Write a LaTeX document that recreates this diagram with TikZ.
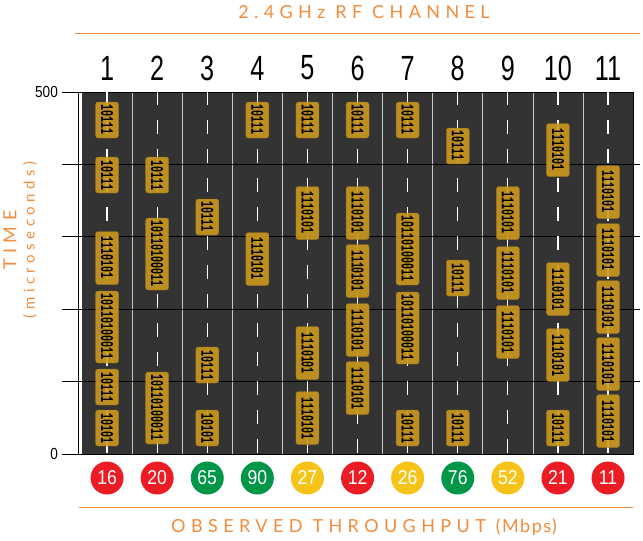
\documentclass[tikz,border=0pt]{standalone}
\usepackage{fontspec}
\setmainfont{Liberation Sans}
\newfontfamily\labelfont[LetterSpace=30]{Lato}
\newfontfamily\unitfont[LetterSpace=8]{Lato}
\newfontfamily\bitsfont{Liberation Mono}
\usepackage{xcolor}
\usepackage{tikz}
\usetikzlibrary{positioning}

\definecolor{rforange}{RGB}{242,140,60}
\definecolor{panelgray}{RGB}{51,51,51}
\definecolor{lanegray}{RGB}{200,200,200}
\definecolor{pktgold}{RGB}{204,154,32}
\definecolor{pktedge}{RGB}{150,112,28}
\definecolor{tpred}{RGB}{236,28,36}
\definecolor{tpgreen}{RGB}{0,150,72}
\definecolor{tpyellow}{RGB}{246,196,24}

\tikzset{
  chnum/.style={font=\fontsize{35}{35}\selectfont, xscale=0.72, inner sep=0pt},
  lane/.style={white, line width=1.2pt, dash pattern=on 14pt off 15pt},
  pkt/.style={rotate=-90, draw=pktedge, fill=pktgold, fill opacity=0.9, text opacity=1,
    rounded corners=2.5pt, minimum height=23pt, inner sep=0pt,
    font=\bitsfont\bfseries\fontsize{10}{10}\selectfont},
  tpdot/.style={circle, minimum size=33pt, inner sep=0pt, text=white,
    font=\fontsize{20}{20}\selectfont},
  grid line/.style={black, line width=0.8pt},
  tick/.style={anchor=east, inner sep=0pt, xscale=0.85, font=\fontsize{16}{16}\selectfont}
}

\begin{document}
\begin{tikzpicture}[x=1pt,y=-1pt]
\useasboundingbox (0,0) rectangle (643,541);
% Channel title
\node[rforange, font=\labelfont\fontsize{18}{18}\selectfont] (title) at (364,12) {2.4GHz RF CHANNEL};
\draw[rforange, line width=1pt] (75,33) -- (640,33);
% Time axis labels
\node[rforange, rotate=90, font=\labelfont\fontsize{18}{18}\selectfont] (timelbl) at (10,240) {TIME};
\node[rforange, rotate=90, font=\labelfont\fontsize{15}{15}\selectfont] (unitlbl) at (30,240) {(microseconds)};
% Plot panel
\fill[panelgray] (82,92) rectangle (633.5,454);
\foreach \k in {1,...,10} {
  \draw[lanegray, line width=0.8pt] ({82+\k*50.1},92) -- ({82+\k*50.1},454);
}
% Time grid
\foreach \k in {1,...,4} {
  \draw[grid line] (62,{92+\k*72.4}) -- (640,{92+\k*72.4});
}
\draw[grid line] (62,92) -- (633.5,92) -- (633.5,454) -- (62,454);
\draw[grid line] (78,92) -- (78,454);
\node[tick] (tmax) at (58,92) {500};
\node[tick] (tmin) at (58,454) {0};
% Channels: number, lane, observed throughput
\foreach \ch/\tp/\tpc in {1/16/tpred, 2/20/tpred, 3/65/tpgreen, 4/90/tpgreen,
    5/27/tpyellow, 6/12/tpred, 7/26/tpyellow, 8/76/tpgreen, 9/52/tpyellow,
    10/21/tpred, 11/11/tpred} {
  \pgfmathsetmacro{\cx}{82+(\ch-0.5)*50.1}
  \node[chnum] (ch\ch) at (\cx,68) {\ch};
  \draw[lane] (\cx,91) -- (\cx,454);
  \node[tpdot, fill=\tpc] (tp\ch) at (\cx,478) {\scalebox{0.88}[1]{\tp}};
}
% Packets on air (column / centre / bits / length)
\foreach \ch/\y/\bits/\len in {
    1/120/10111/36, 1/175/10111/36, 1/258/1110101/53, 1/327/10110100011/72, 1/387/10111/36, 1/428/10101/36,
    2/175/10111/36, 2/254/10110100011/72, 2/408/10110100011/72,
    3/217/10111/36, 3/365/10111/36, 3/428/10101/36,
    4/120/10111/36, 4/259/1110101/53,
    5/120/10111/36, 5/213/1110101/53, 5/353/1110101/53, 5/418/1110101/53,
    6/120/10111/36, 6/213/1110101/53, 6/271/1110101/53, 6/330/1110101/53, 6/388/1110101/53,
    7/120/10111/36, 7/249/10110100011/72, 7/328/10110100011/72, 7/428/10111/36,
    8/146/10111/36, 8/278/10111/36, 8/428/10111/36,
    9/213/1110101/53, 9/273/1110101/53, 9/332/1110101/53,
    10/150/1110101/53, 10/289/1110101/53, 10/355/1110101/53, 10/428/10111/36,
    11/192/1110101/53, 11/250/1110101/53, 11/307/1110101/53, 11/364/1110101/53, 11/421/1110101/53} {
  \pgfmathsetmacro{\cx}{82+(\ch-0.5)*50.1}
  \node[pkt, minimum width=\len pt] (pkt\ch-\y) at (\cx,\y) {\scalebox{1}[1.8]{\bits}};
}
% Throughput title
\draw[rforange, line width=1pt] (79,507) -- (633,507);
\node[rforange, font=\labelfont\fontsize{18}{18}\selectfont] (tplbl) at (364,527) {OBSERVED THROUGHPUT {\unitfont(Mbps)}};
\end{tikzpicture}
\end{document}
